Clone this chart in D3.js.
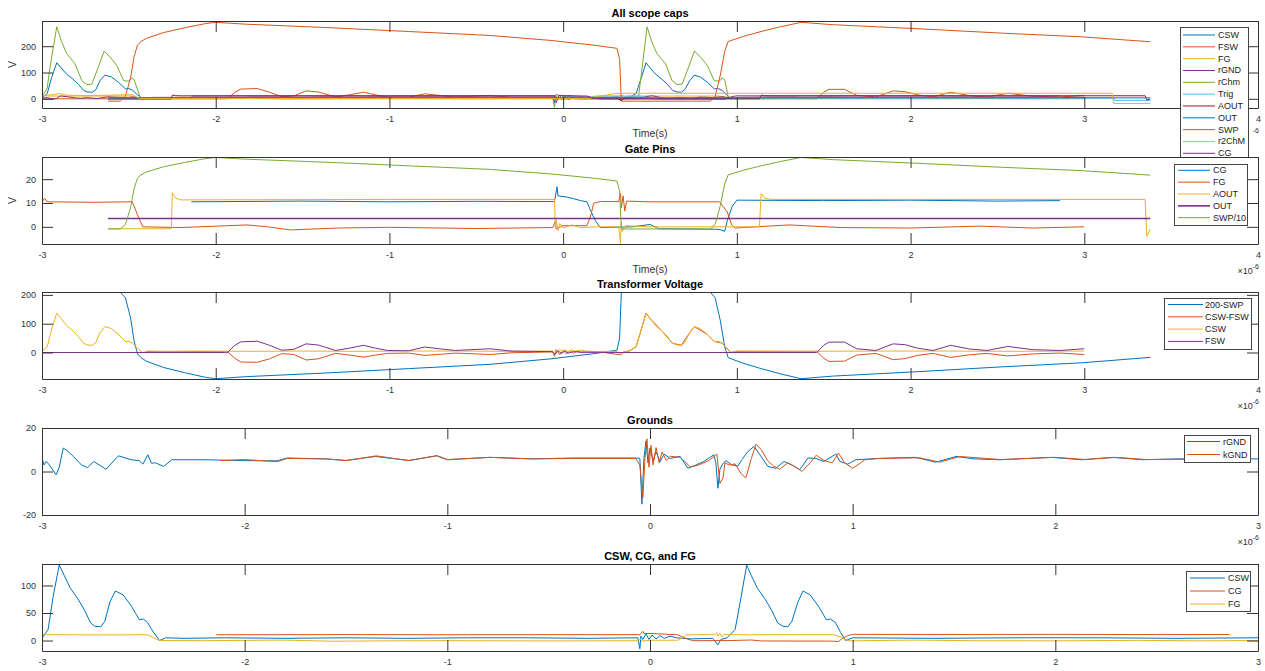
<!DOCTYPE html>
<html>
<head>
<meta charset="utf-8">
<script src="https://cdn.jsdelivr.net/npm/d3@7"></script>
<style>
  body { margin: 0; background: #fff; }
  svg text { font-family: "Liberation Sans", Arial, Helvetica, sans-serif; fill: #333; }
</style>
</head>
<body>
<svg id="fig" width="1265" height="671"></svg>
<script>

const CSW = [[-3.0,4],[-2.97,20],[-2.945,80],[-2.915,137],[-2.89,118],[-2.86,95],[-2.82,74],[-2.79,55],[-2.76,32],[-2.74,26],[-2.71,25],[-2.69,35],[-2.665,70],[-2.638,90],[-2.60,83],[-2.56,63],[-2.52,38],[-2.50,39],[-2.48,33],[-2.45,15],[-2.42,0],[-2.39,5],[-2.3,4],[-2.1,5],[-1.8,4],[-1.5,5],[-1.2,4],[-0.9,5],[-0.6,5],[-0.3,4],[-0.06,5],[-0.05,-15],[-0.045,8],[-0.035,2],[-0.02,12],[-0.005,2],[0.01,10],[0.03,3],[0.05,9],[0.07,4],[0.1,8],[0.13,5],[0.2,3],[0.31,4],[0.335,-8],[0.35,2],[0.38,5],[0.42,20],[0.45,80],[0.477,137],[0.5,118],[0.53,95],[0.57,74],[0.6,55],[0.63,32],[0.656,26],[0.68,25],[0.7,35],[0.73,70],[0.755,90],[0.79,83],[0.83,63],[0.87,38],[0.89,39],[0.914,33],[0.94,15],[0.965,0],[1.0,5],[1.4,4],[1.8,5],[2.2,5],[2.6,4],[3.0,5]];

const FSW = [[-3,0],[-1.95,0],[-1.93,1],[-1.89,25],[-1.855,37],[-1.76,39],[-1.69,25],[-1.62,8],[-1.55,11],[-1.48,30],[-1.41,26],[-1.31,7],[-1.23,15],[-1.15,25],[-1.08,15],[-1.01,7],[-0.89,6],[-0.797,19],[-0.7,12],[-0.62,7],[-0.42,13],[-0.30,5],[-0.06,3],[-0.05,-8],[-0.03,6],[-0.01,-3],[0.01,5],[0.03,-2],[0.06,3],[0.1,1],[0.3,0],[1.46,0],[1.5,25],[1.53,36],[1.62,36],[1.69,13],[1.8,7],[1.9,30],[1.97,27],[2.04,15],[2.13,7],[2.23,25],[2.34,12],[2.44,7],[2.56,21],[2.7,10],[2.86,7],[3.0,13]];

const CSW_FSW = [[-2.4,3],[-1.95,3],[-1.93,2],[-1.89,-20],[-1.855,-33],[-1.76,-34],[-1.69,-22],[-1.62,-4],[-1.55,-7],[-1.48,-26],[-1.41,-22],[-1.31,-3],[-1.23,-9],[-1.15,-16],[-1.08,-9],[-1.01,-3],[-0.89,-2],[-0.797,-10],[-0.7,-6],[-0.62,-2],[-0.42,-7],[-0.30,-1],[-0.06,2],[-0.05,-12],[-0.04,10],[-0.02,-8],[0,8],[0.02,-5],[0.04,7],[0.06,-3],[0.08,5],[0.1,1],[0.2,3],[0.33,-8],[0.35,3],[0.38,5],[0.42,20],[0.45,80],[0.477,137],[0.5,118],[0.57,74],[0.63,32],[0.68,25],[0.73,70],[0.755,90],[0.83,63],[0.87,38],[0.914,33],[0.965,0],[1.0,4],[1.46,4],[1.5,-20],[1.53,-31],[1.62,-30],[1.69,-9],[1.8,-3],[1.9,-25],[1.97,-21],[2.04,-10],[2.13,-3],[2.23,-17],[2.34,-8],[2.44,-3],[2.56,-12],[2.7,-5],[2.86,-2],[3.0,-7]];

const FG = [[-3,10.5],[-2.985,12],[-2.97,10.5],[-2.7,10.3],[-2.48,10.5],[-2.45,5],[-2.42,0],[-2.2,-0.3],[-1.82,0.8],[-1.7,0],[-1.57,-1.3],[-1.3,-0.5],[-1.0,-0.2],[-0.5,-0.7],[-0.06,-0.3],[-0.045,2.2],[-0.04,-1],[0,0.5],[0.137,0.5],[0.16,5],[0.176,9.9],[0.214,10.6],[0.32,10.6],[0.33,14],[0.335,8],[0.345,13],[0.355,6.6],[0.365,10.8],[0.5,10.5],[0.9,10.5],[0.944,6.4],[0.97,0.8],[0.99,-0.5],[1.3,0.8],[1.6,-0.3],[2.0,-0.5],[2.4,0.3],[2.7,-0.5],[3.0,0]];

const CG = [[-2.14,10.5],[-1.5,10.8],[-1.0,10.5],[-0.5,10.7],[-0.05,10.6],[-0.035,16.8],[-0.03,13],[0.02,12.5],[0.06,11.8],[0.1,11],[0.137,10.5],[0.157,7],[0.186,2.5],[0.214,-0.3],[0.4,0],[0.5,1],[0.55,-0.8],[0.88,-1],[0.906,-1.2],[0.93,-1.9],[0.944,2.3],[0.973,8.6],[1.0,11.2],[1.5,11],[2.0,11.2],[2.5,10.8],[2.86,11]];

const AOUT = [[-2.62,-0.8],[-2.255,-0.8],[-2.25,14.3],[-2.23,12],[-2.2,11.3],[-1.0,11.5],[-0.05,11.5],[-0.045,0],[-0.04,3],[-0.03,-1.5],[-0.02,1.5],[0,-0.5],[0.05,0.8],[0.1,-0.3],[0.2,0],[0.32,0],[0.33,-7],[0.335,2],[0.34,-2],[0.36,0.5],[0.5,0],[1.13,0],[1.14,14],[1.16,12],[1.2,11.5],[3.35,11.5],[3.36,-4],[3.38,-1]];

const OUT = [[-2.62,3.5],[3.38,3.5]];

const SWP = [[-2.62,-9],[-2.55,-9],[-2.52,10],[-2.49,80],[-2.47,160],[-2.45,205],[-2.43,218],[-2.40,230],[-2.30,252],[-2.18,270],[-2.06,286],[-2.0,291],[-1.83,284],[-1.36,271],[-0.89,256],[-0.42,241],[-0.07,222],[0.19,203],[0.31,192],[0.325,150],[0.335,-9],[0.5,-9],[0.848,-9],[0.875,10],[0.905,90],[0.93,180],[0.95,218],[1.04,238],[1.14,256],[1.25,274],[1.37,291],[1.55,282],[2.06,266],[2.52,250],[2.98,236],[3.38,217]];

const rChm = [[-3,10],[-2.97,40],[-2.954,120],[-2.915,274],[-2.887,217],[-2.858,172],[-2.81,133],[-2.771,69],[-2.742,54],[-2.713,56],[-2.676,120],[-2.643,181],[-2.608,159],[-2.57,127],[-2.53,69],[-2.5,67],[-2.486,80],[-2.47,73],[-2.435,5],[-2.3,3],[-1.0,4],[-0.06,4],[-0.05,-33],[-0.04,10],[-0.02,0],[0.0,8],[0.05,2],[0.1,6],[0.2,3],[0.434,8],[0.455,120],[0.483,274],[0.51,217],[0.54,172],[0.59,133],[0.627,69],[0.656,54],[0.685,56],[0.722,120],[0.756,182],[0.79,159],[0.83,127],[0.87,69],[0.9,67],[0.915,80],[0.93,73],[0.951,5],[2.87,5]];

const Trig = [[-2.62,3],[0.15,3],[0.2,10],[0.45,10],[0.5,3],[3.17,3],[3.175,-6],[3.38,-6]];

const r2ChM = [[-3,12],[-2.93,16],[-2.9,20],[-2.86,14],[-2.75,12],[-2.6,14],[-2.48,16],[-2.45,5],[-2.43,1],[0.15,1],[0.2,8],[0.3,20],[0.36,21],[3.16,21],[3.17,-18],[3.38,-18]];

const rGND = [[-3,6.2],[-2.99,3],[-2.98,4.6],[-2.97,3.8],[-2.93,-1.5],[-2.915,2],[-2.895,10.8],[-2.875,9.5],[-2.845,6.9],[-2.805,3],[-2.775,1.8],[-2.744,4.6],[-2.684,1],[-2.623,7.2],[-2.56,5.4],[-2.52,5],[-2.502,3.4],[-2.478,7.7],[-2.46,3.8],[-2.44,4],[-2.40,2.3],[-2.36,5.4],[-2.2,5.4],[-2.0,5],[-1.84,4.9],[-1.79,6.2],[-1.6,5.8],[-1.5,5.1],[-1.355,6.9],[-1.19,5.1],[-1.053,7.2],[-1.0,5.4],[-0.79,6.5],[-0.58,5.8],[-0.38,6.2],[-0.066,6.2],[-0.05,6],[-0.04,-15],[-0.03,6],[-0.02,14],[-0.01,4],[0.0,10.8],[0.015,5],[0.03,9],[0.05,4.5],[0.069,8],[0.1,6],[0.148,7],[0.187,1.5],[0.227,3],[0.266,4.6],[0.315,7.7],[0.325,4],[0.335,-7.7],[0.345,1],[0.355,3],[0.374,5],[0.404,3],[0.434,2.5],[0.453,5.4],[0.483,9.2],[0.513,11.5],[0.542,7.7],[0.582,2.3],[0.621,1.5],[0.661,4.6],[0.7,3],[0.739,0.8],[0.779,6.2],[0.82,6],[0.858,4.6],[0.917,8],[0.937,4.6],[0.976,3.4],[1.016,5.4],[1.13,6],[1.31,6.5],[1.41,4.3],[1.51,6.9],[1.6,5.8],[1.727,5.4],[1.98,6.5],[2.13,5.4],[2.28,6.5],[2.43,5.4],[2.61,5.8],[3.0,5.8]];

const kGND = [[-2.12,5],[-2.0,5.5],[-1.84,4.5],[-1.79,6],[-1.6,5.8],[-1.5,5],[-1.35,7.2],[-1.19,5],[-1.05,7.3],[-1.0,5.5],[-0.79,6.5],[-0.58,5.8],[-0.38,6],[-0.07,6],[-0.05,3],[-0.035,-12],[-0.025,6],[-0.015,15],[-0.005,2],[0.005,12],[0.015,3],[0.03,11],[0.045,4],[0.06,9],[0.08,5],[0.1,7],[0.15,6.5],[0.2,2],[0.24,3],[0.29,5],[0.33,8],[0.345,-5.5],[0.36,-3],[0.37,4],[0.39,3],[0.42,3.5],[0.45,-1],[0.473,-3],[0.5,6],[0.523,12.5],[0.55,10],[0.58,5],[0.61,2.5],[0.64,1],[0.68,4],[0.72,2],[0.75,0],[0.79,4],[0.82,7.5],[0.86,5],[0.9,4],[0.93,8.5],[0.96,4],[1.0,1.5],[1.04,4],[1.06,5.4],[1.13,6],[1.33,6.3],[1.43,4.3],[1.53,6.9],[1.73,5.5],[2.0,6.5],[2.15,5.5],[2.3,6.5],[2.45,5.5],[2.85,5.8]];

// axis limits + ticks
const ylims = [[-35, 296], [-7.2, 29.3], [-92, 210], [-20, 20], [-19, 139]];
const yticks = [[0, 100, 200], [0, 10, 20], [0, 100, 200], [-20, 0, 20], [0, 50, 100]];
const xlims = [[-3, 4], [-3, 4], [-3, 4], [-3, 3], [-3, 3]];
const titles = ['All scope caps', 'Gate Pins', 'Transformer Voltage', 'Grounds', 'CSW, CG, and FG'];

// matlab default line colours
const c = ['#0072BD', '#D95319', '#EDB120', '#7E2F8E', '#77AC30', '#4DBEEE', '#A2142F'];

// expo: 'full' = x10^-6 shown, 'sup' = only the -6 peeks out from behind the legend
const panels = [
  { series: [
      {name: 'CSW', data: CSW, color: c[0]},
      {name: 'FSW', data: FSW, color: c[1]},
      {name: 'FG', data: FG, color: c[2]},
      {name: 'rGND', data: rGND, color: c[3]},
      {name: 'rChm', data: rChm, color: c[4]},
      {name: 'Trig', data: Trig, color: c[5]},
      {name: 'AOUT', data: AOUT, color: c[6]},
      {name: 'OUT', data: OUT, color: c[0]},
      {name: 'SWP', data: SWP, color: c[1]},
      {name: 'r2ChM', data: r2ChM, color: c[2]},
      {name: 'CG', data: CG, color: c[3]}
    ],
    ylabel: 'V', xlabel: 'Time(s)', expo: 'sup',
    legend: {x: 1180, y: 27, w: 68, h: 135, y0: 35, dy: 11.83, l0: 1183, l1: 1215, tx: 1218} },
  { series: [
      {name: 'CG', data: CG, color: c[0]},
      {name: 'FG', data: FG, color: c[1]},
      {name: 'AOUT', data: AOUT, color: c[2]},
      {name: 'OUT', data: OUT, color: c[3], w: 1.6},
      {name: 'SWP/10', data: SWP, color: c[4], f: v => v / 10}
    ],
    ylabel: 'V', xlabel: 'Time(s)', expo: 'full',
    legend: {x: 1174, y: 164, w: 73, h: 61, y0: 170.3, dy: 11.85, l0: 1178, l1: 1210, tx: 1213} },
  { series: [
      {name: '200-SWP', data: SWP, color: c[0], f: v => 200 - v},
      {name: 'CSW-FSW', data: CSW_FSW, color: c[1]},
      {name: 'CSW', data: CSW, color: c[2]},
      {name: 'FSW', data: FSW, color: c[3]}
    ],
    expo: 'full',
    legend: {x: 1164, y: 298, w: 87, h: 51, y0: 304.5, dy: 12.3, l0: 1168, l1: 1203, tx: 1205} },
  { series: [
      {name: 'rGND', data: rGND, color: c[0]},
      {name: 'kGND', data: kGND, color: c[1]}
    ],
    expo: 'full',
    legend: {x: 1184, y: 435, w: 66, h: 27, y0: 441.5, dy: 13, l0: 1187, l1: 1220, tx: 1223} },
  { series: [
      {name: 'CSW', data: CSW, color: c[0]},
      {name: 'CG', data: CG, color: c[1]},
      {name: 'FG', data: FG, color: c[2]}
    ],
    legend: {x: 1186, y: 571, w: 64, h: 40, y0: 578, dy: 13, l0: 1190, l1: 1225, tx: 1228} }
];

const svg = d3.select('#fig');
const L = 42, R = 1258, H = 87;
const tops = [21, 157, 292, 428, 564];
const axisCol = '#333';

panels.forEach((p, i) => {
  const top = tops[i];
  const g = svg.append('g');

  // white axes background (later axes cover the previous legend overflow)
  g.append('rect')
    .attr('x', L).attr('y', top)
    .attr('width', R - L).attr('height', H)
    .attr('fill', '#fff');

  const x = d3.scaleLinear().domain(xlims[i]).range([L, R]);
  const y = d3.scaleLinear().domain(ylims[i]).range([top + H, top]);

  g.append('clipPath').attr('id', 'clip' + i)
    .append('rect')
    .attr('x', L).attr('y', top)
    .attr('width', R - L).attr('height', H);

  const plot = g.append('g').attr('clip-path', `url(#clip${i})`);
  p.series.forEach((s) => {
    const f = s.f || (v => v);
    plot.append('path')
      .datum(s.data)
      .attr('fill', 'none')
      .attr('stroke', s.color)
      .attr('stroke-width', s.w || 1)
      .attr('stroke-linejoin', 'round')
      .attr('d', d3.line().x(d => x(d[0])).y(d => y(f(d[1]))));
  });

  // axes, ticks pointing in, box on
  const xt = d3.range(xlims[i][0], xlims[i][1] + 1);
  const fmt = d => String(d);

  const ax = [
    g.append('g').attr('transform', `translate(0,${top + H})`)
      .call(d3.axisBottom(x).tickValues(xt).tickFormat(fmt).tickSizeInner(-11).tickSizeOuter(0).tickPadding(8)),
    g.append('g').attr('transform', `translate(0,${top})`)
      .call(d3.axisTop(x).tickValues(xt).tickFormat('').tickSizeInner(-11).tickSizeOuter(0)),
    g.append('g').attr('transform', `translate(${L},0)`)
      .call(d3.axisLeft(y).tickValues(yticks[i]).tickFormat(fmt).tickSizeInner(-11).tickSizeOuter(0).tickPadding(6)),
    g.append('g').attr('transform', `translate(${R},0)`)
      .call(d3.axisRight(y).tickValues(yticks[i]).tickFormat('').tickSizeInner(-11).tickSizeOuter(0))
  ];
  ax.forEach((a) => {
    a.attr('color', axisCol);
    a.selectAll('text').attr('font-size', 9);
  });

  // title
  g.append('text')
    .attr('x', (L + R) / 2).attr('y', top - 4)
    .attr('text-anchor', 'middle')
    .attr('font-size', 11).attr('font-weight', 'bold')
    .style('fill', '#000')
    .text(titles[i]);

  if (p.xlabel) {
    g.append('text')
      .attr('x', (L + R) / 2).attr('y', top + H + 29)
      .attr('text-anchor', 'middle')
      .attr('font-size', 10.5)
      .text(p.xlabel);
  }
  if (p.ylabel) {
    g.append('text')
      .attr('transform', `translate(16,${top + H / 2}) rotate(-90)`)
      .attr('text-anchor', 'middle')
      .attr('font-size', 10.5)
      .text(p.ylabel);
  }

  if (p.expo === 'full') {
    const e = g.append('text')
      .attr('x', R + 1).attr('y', top + H + 30)
      .attr('text-anchor', 'end')
      .attr('font-size', 9);
    e.append('tspan').text('\u00d710');
    e.append('tspan').attr('dy', -5).attr('font-size', 7).text('-6');
  } else if (p.expo === 'sup') {
    g.append('text')
      .attr('x', R + 1).attr('y', top + H + 25)
      .attr('text-anchor', 'end')
      .attr('font-size', 7)
      .text('-6');
  }

  // legend
  const lg = p.legend;
  const leg = g.append('g');
  leg.append('rect')
    .attr('x', lg.x + 0.5).attr('y', lg.y + 0.5)
    .attr('width', lg.w).attr('height', lg.h)
    .attr('fill', '#fff')
    .attr('stroke', '#444').attr('stroke-width', 1);
  p.series.forEach((s, k) => {
    const yy = lg.y0 + k * lg.dy;
    leg.append('line')
      .attr('x1', lg.l0).attr('x2', lg.l1)
      .attr('y1', yy).attr('y2', yy)
      .attr('stroke', s.color).attr('stroke-width', s.w || 1);
    leg.append('text')
      .attr('x', lg.tx).attr('y', yy)
      .attr('dominant-baseline', 'central')
      .attr('font-size', 9)
      .style('fill', '#222')
      .text(s.name);
  });
});
</script>
</body>
</html>
